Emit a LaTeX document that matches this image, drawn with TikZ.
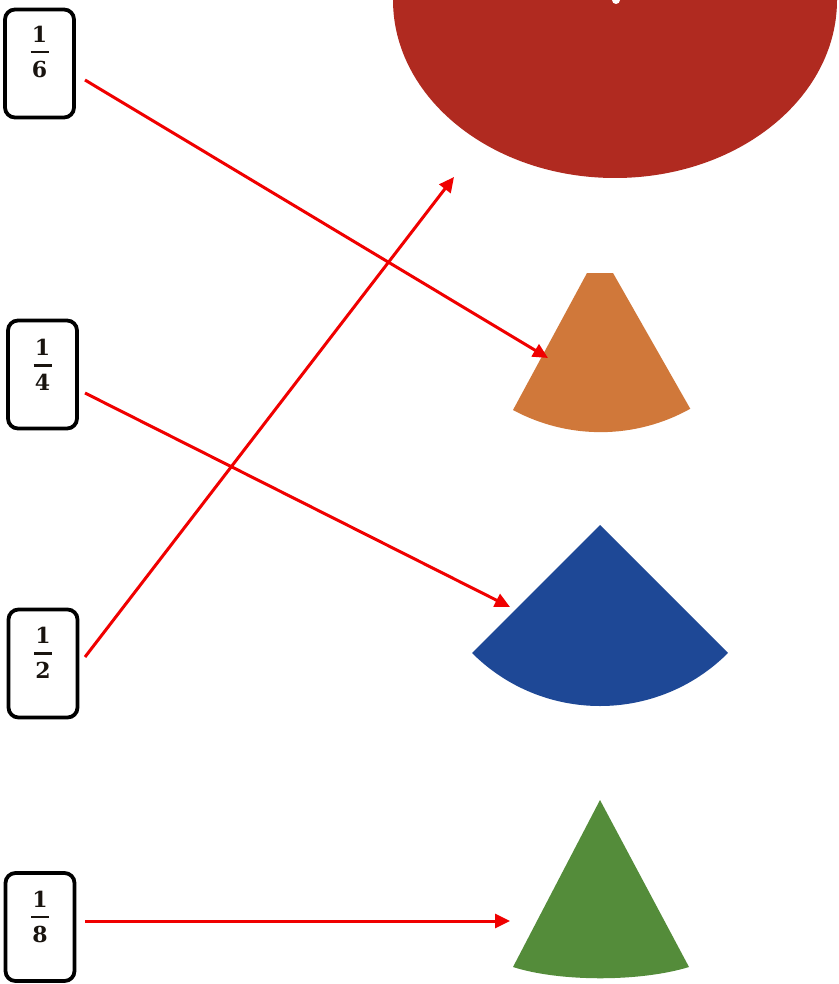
\documentclass[tikz,border=0pt]{standalone}
\usepackage{fontspec}
\newfontfamily\fracfont{DejaVu Serif}
\usetikzlibrary{arrows.meta}
\definecolor{semired}{RGB}{176,42,32}
\definecolor{sectororange}{RGB}{208,120,58}
\definecolor{sectorblue}{RGB}{30,72,150}
\definecolor{sectorgreen}{RGB}{84,140,58}
\definecolor{arrowred}{RGB}{240,0,0}
\definecolor{fracink}{RGB}{25,20,15}
\newcommand{\bfrac}[2]{{\fracfont\bfseries\fontsize{22}{26}\selectfont
  \vbox{\offinterlineskip\halign{\hfil##\hfil\cr #1\cr\noalign{\kern9pt}\vrule width 18pt height 2.2pt\cr\noalign{\kern8pt}#2\cr}}}}
\begin{document}
\begin{tikzpicture}[x=1pt,y=1pt,yscale=-1,
  fracbox/.style={draw=black,line width=3.8pt,rounded corners=10pt,fill=white,
    minimum width=69pt,minimum height=108pt,inner sep=0pt},
  fractext/.style={inner sep=0pt,text=fracink},
  matcharrow/.style={draw=arrowred,line width=3pt,
    -{Triangle[length=15pt,width=14pt]}}]
\useasboundingbox (0,0) rectangle (838,984);
\fill[white] (0,0) rectangle (838,984);
% shapes
\fill[semired] (393,0) arc[start angle=180,end angle=0,x radius=222,y radius=178] -- cycle;
\fill[white] (616,0) circle[radius=4];
\fill[sectororange] (587,273) -- (513,410) arc[start angle=118.4,end angle=60.8,radius=184] -- (613,273) -- cycle;
\fill[sectorblue] (600,525) -- ++(135:181) arc[start angle=135,end angle=45,radius=181] -- cycle;
\fill[sectorgreen] (600,800) -- (513,967) .. controls (560,982) and (640,982) .. (689,967) -- cycle;
% boxes
\node[fracbox] (b1) at (39.5,63.5) {};
\node[fracbox] (b2) at (42.5,374.5) {};
\node[fracbox] (b3) at (43,663.5) {};
\node[fracbox] (b4) at (40,927) {};
\node[fractext] (f1) at (39.5,52) {\bfrac{1}{6}};
\node[fractext] (f2) at (42.5,365) {\bfrac{1}{4}};
\node[fractext] (f3) at (43,653) {\bfrac{1}{2}};
\node[fractext] (f4) at (40,917) {\bfrac{1}{8}};
% connector ends
\coordinate (s1) at (85,80);
\coordinate (s2) at (85,393);
\coordinate (s3) at (85,657);
\coordinate (s4) at (85,921);
\coordinate (t1) at (548,358);
\coordinate (t2) at (510,607);
\coordinate (t3) at (454,177);
\coordinate (t4) at (510,921);
\draw[matcharrow] (s1) -- (t1);
\draw[matcharrow] (s2) -- (t2);
\draw[matcharrow] (s3) -- (t3);
\draw[matcharrow] (s4) -- (t4);
\end{tikzpicture}
\end{document}
